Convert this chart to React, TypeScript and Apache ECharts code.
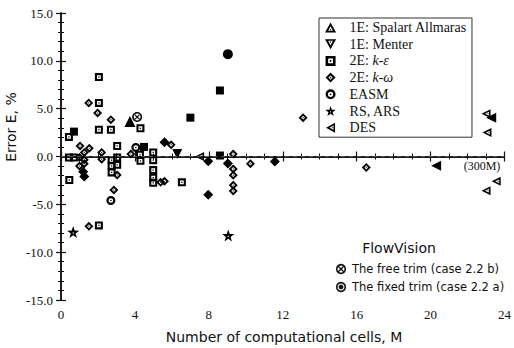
import React, { useEffect, useRef } from "react";
import * as echarts from "echarts";

type P = [number, number];

const xTickLabels = ["0", "4", "8", "12", "16", "20", "24"];
const yTickLabels = ["-15.0", "-10.0", "-5.0", "0.0", "5.0", "10.0", "15.0"];

const legendNames = [
  "1E: Spalart Allmaras",
  "1E: Menter",
  "2E: k-ε",
  "2E: k-ω",
  "EASM",
  "RS, ARS",
  "DES",
];

const spalart: P[] = [];
const menter: P[] = [];
const kEps: P[] = [
  [0.43, 2.05], [0.43, -0.1], [0.7, -0.1], [0.45, -2.46], [2.05, 8.3], [2.05, 5.6],
  [2.05, 2.8], [2.7, 2.8], [3.04, 1.1], [2.74, -0.38], [3.04, -0.1], [2.74, -0.97],
  [3.04, -0.87], [2.74, -1.66], [4.3, 2.95], [4.27, 0.18], [4.3, -0.45], [4.99, 0.42],
  [4.99, -0.38], [4.99, -1.42], [4.99, -2.2], [4.99, -2.75], [6.54, -2.7], [2.05, -7.2],
];
const kOmega: P[] = [
  [1.03, 1.1], [1.53, 0.85], [1.26, 0.42], [1.0, -0.1], [1.26, -0.35], [1.26, -0.75],
  [1.0, -1.0], [1.5, 5.6], [1.98, 4.55], [2.7, 3.85], [2.2, 0.42], [2.2, -0.28],
  [3.04, -1.94], [2.86, -3.5], [3.78, 0.25], [5.39, -2.7], [5.6, -2.6], [5.96, 1.22],
  [9.32, 0.25], [9.32, -1.3], [9.32, -1.95], [9.32, -3.0], [9.32, -3.6], [10.25, -0.75],
  [13.1, 4.06], [16.52, -1.15], [1.51, -7.3],
];
const easm: P[] = [[4.05, 0.94], [2.7, -4.6]];
const rsArs: P[] = [[0.66, -7.9], [9.05, -8.25]];
const des: P[] = [[7.5, 0.0], [23.0, 4.48], [23.05, 2.5], [23.55, -2.6], [23.0, -3.57]];

const filledSquares: P[] = [[0.7, 2.6], [4.49, 1.0], [7.0, 4.06], [8.6, 6.9], [8.6, 0.1]];
const filledDiamonds: P[] = [
  [1.26, -2.1], [1.2, -1.6], [5.6, 1.5], [7.97, -0.5], [7.97, -4.0], [9.03, -0.73], [11.57, -0.52],
];
const filledCircles: P[] = [[9.03, 10.7]];
const filledTriUp: P[] = [[3.73, 3.65]];
const filledTriDown: P[] = [[6.29, 0.25]];
const filledTriLeft: P[] = [[20.3, -0.97], [23.28, 4.06]];
const freeTrim: P[] = [[4.12, 4.13]];

const SQ = "path://M0 0 L10 0 L10 10 L0 10 Z M2.6 2.6 L2.6 7.4 L7.4 7.4 L7.4 2.6 Z M4.2 4.2 L5.8 4.2 L5.8 5.8 L4.2 5.8 Z";
const DIA = "path://M5 0 L10 5 L5 10 L0 5 Z M5 2.9 L2.9 5 L5 7.1 L7.1 5 Z M5 4.2 L5.8 5 L5 5.8 L4.2 5 Z";
const TRI = "path://M5 0 L10 9 L0 9 Z M5 3.4 L2.9 7.5 L7.1 7.5 Z M5 5.6 L5.8 7 L4.2 7 Z";
const TRID = "path://M0 0 L10 0 L5 9 Z M2.9 1.5 L5 5.6 L7.1 1.5 Z M4.2 2 L5.8 2 L5 3.4 Z";
const TRIL = "path://M0 5 L9 0 L9 10 Z M3.4 5 L7.5 7.1 L7.5 2.9 Z M5.6 5 L7 4.2 L7 5.8 Z";
const CIRC = "path://M0 5 A5 5 0 1 1 10 5 A5 5 0 1 1 0 5 Z M2.4 5 A2.6 2.6 0 1 0 7.6 5 A2.6 2.6 0 1 0 2.4 5 Z M4.1 5 A0.9 0.9 0 1 1 5.9 5 A0.9 0.9 0 1 1 4.1 5 Z";
const STAR = "path://M10 0 L12.35 6.76 L19.51 6.91 L13.8 11.24 L15.88 18.09 L10 14 L4.12 18.09 L6.2 11.24 L0.49 6.91 L7.65 6.76 Z M8.9 10.5 A1.1 1.1 0 1 0 11.1 10.5 A1.1 1.1 0 1 0 8.9 10.5 Z";
const TRIDF = "path://M0 0 L10 0 L5 9 Z";
const TRILF = "path://M0 5 L9 0 L9 10 Z";
const CROSS = "path://M0 5 A5 5 0 1 1 10 5 A5 5 0 1 1 0 5 Z M1.6 5 A3.4 3.4 0 1 0 8.4 5 A3.4 3.4 0 1 0 1.6 5 Z M2.2 3 L3 2.2 L7.8 7 L7 7.8 Z M7 2.2 L7.8 3 L3 7.8 L2.2 7 Z";

const SERIF = "Liberation Serif";
const SANS = "DejaVu Sans";

function axisCommon(show: boolean) {
  return {
    axisLine: { show: true, lineStyle: { color: "#111", width: 1.5 } },
    axisTick: { show: true, inside: true, length: 5, lineStyle: { color: "#111", width: 1.2 } },
    splitLine: { show: false },
    minorSplitLine: { show: false },
    axisLabel: {
      show,
      fontFamily: SERIF,
      fontSize: 13,
      color: "#111",
    },
  };
}

export default function App() {
  const ref = useRef<HTMLDivElement>(null);
  useEffect(() => {
    if (!ref.current) return;
    const chart = echarts.init(ref.current, undefined, { renderer: "svg" });
    const sc = (name: string, data: P[], symbol: string, size: number, extra: any = {}) => ({
      type: "scatter",
      name,
      data,
      symbol,
      symbolSize: size,
      itemStyle: { color: "#000", opacity: 1 },
      emphasis: { disabled: true },
      ...extra,
    });
    chart.setOption({
      animation: false,
      backgroundColor: "#fff",
      grid: { left: 61, right: 8, top: 13, bottom: 48, containLabel: false },
      xAxis: [
        {
          type: "value", min: 0, max: 24, interval: 4, position: "bottom",
          ...axisCommon(true),
          minorTick: { show: true, splitNumber: 4, length: 3, lineStyle: { color: "#111", width: 1 } },
          axisLabel: {
            show: true, margin: 8, fontFamily: SERIF, fontSize: 13, color: "#111",
            formatter: (v: number) => xTickLabels[Math.round(v / 4)] ?? "",
          },
        },
        {
          type: "value", min: 0, max: 24, interval: 4, position: "top",
          ...axisCommon(false),
          minorTick: { show: true, splitNumber: 4, length: 3, lineStyle: { color: "#111", width: 1 } },
        },
      ],
      yAxis: [
        {
          type: "value", min: -15, max: 15, interval: 5, position: "left",
          ...axisCommon(true),
          minorTick: { show: true, splitNumber: 5, length: 3, lineStyle: { color: "#111", width: 1 } },
          axisLabel: {
            show: true, margin: 8, fontFamily: SERIF, fontSize: 13, color: "#111",
            formatter: (v: number) => yTickLabels[Math.round((v + 15) / 5)] ?? "",
          },
        },
        {
          type: "value", min: -15, max: 15, interval: 5, position: "right",
          ...axisCommon(false),
          minorTick: { show: true, splitNumber: 5, length: 3, lineStyle: { color: "#111", width: 1 } },
        },
      ],
      legend: {
        data: legendNames,
        orient: "vertical",
        left: 319,
        top: 18,
        padding: [2, 5, 2, 6],
        itemWidth: 12,
        itemHeight: 10,
        itemGap: 1.7,
        borderColor: "#333",
        borderWidth: 1,
        backgroundColor: "#fff",
        selectedMode: false,
        textStyle: {
          fontFamily: SERIF, fontSize: 14, color: "#111", lineHeight: 15, padding: [0, 0, 0, 8],
          rich: { i: { fontFamily: SERIF, fontSize: 14, fontStyle: "italic", color: "#111", lineHeight: 15 } },
        },
        formatter: (name: string) => (name.startsWith("2E: ") ? `2E: {i|${name.slice(4)}}` : name),
      },
      series: [
        sc("fs", filledSquares, "rect", 8),
        sc("fd", filledDiamonds, "diamond", 10),
        sc("fc", filledCircles, "circle", 10),
        sc("ftu", filledTriUp, "triangle", 11),
        sc("ftd", filledTriDown, TRIDF, 10),
        sc("ftl", filledTriLeft, TRILF, 10),
        sc(legendNames[0], spalart, TRI, 10),
        sc(legendNames[1], menter, TRID, 10),
        sc(legendNames[2], kEps, SQ, 8, {
          markLine: {
            silent: true,
            symbol: ["none", "none"],
            label: { show: false },
            lineStyle: { type: [4, 4], color: "#555", width: 1 },
            data: [{ yAxis: 0 }],
          },
        }),
        sc(legendNames[3], kOmega, DIA, 9),
        sc(legendNames[4], easm, CIRC, 9),
        sc(legendNames[5], rsArs, STAR, 12),
        sc(legendNames[6], des, TRIL, 9),
        sc("free", freeTrim, CROSS, 10),
      ],
      graphic: [
        {
          type: "text", x: 11, y: 127, rotation: Math.PI / 2,
          style: { text: "Error E, %", font: `14px '${SANS}'`, fill: "#111", align: "center", verticalAlign: "middle" },
        },
        {
          type: "text", x: 284, y: 337,
          style: { text: "Number of computational cells, M", font: `14px '${SANS}'`, fill: "#111", align: "center", verticalAlign: "middle" },
        },
        {
          type: "text", x: 482, y: 166,
          style: { text: "(300M)", font: `12px '${SERIF}'`, fill: "#111", align: "center", verticalAlign: "middle" },
        },
        {
          type: "text", x: 399, y: 248,
          style: { text: "FlowVision", font: `14px '${SANS}'`, fill: "#111", align: "center", verticalAlign: "middle" },
        },
        { type: "circle", shape: { cx: 341, cy: 269, r: 4.3 }, style: { fill: "#fff", stroke: "#111", lineWidth: 1.6 } },
        { type: "line", shape: { x1: 338.3, y1: 266.3, x2: 343.7, y2: 271.7 }, style: { stroke: "#111", lineWidth: 1.3 } },
        { type: "line", shape: { x1: 343.7, y1: 266.3, x2: 338.3, y2: 271.7 }, style: { stroke: "#111", lineWidth: 1.3 } },
        {
          type: "text", x: 352, y: 269,
          style: { text: "The free trim (case 2.2 b)", font: `11.5px '${SANS}'`, fill: "#111", align: "left", verticalAlign: "middle" },
        },
        { type: "circle", shape: { cx: 341, cy: 287, r: 4.3 }, style: { fill: "#fff", stroke: "#111", lineWidth: 1.6 } },
        { type: "circle", shape: { cx: 341, cy: 287, r: 2.4 }, style: { fill: "#111" } },
        {
          type: "text", x: 352, y: 287,
          style: { text: "The fixed trim (case 2.2 a)", font: `11.5px '${SANS}'`, fill: "#111", align: "left", verticalAlign: "middle" },
        },
      ],
    });
    return () => chart.dispose();
  }, []);
  return <div ref={ref} style={{ width: 514, height: 348, position: "absolute", left: 0, top: 0 }} />;
}
